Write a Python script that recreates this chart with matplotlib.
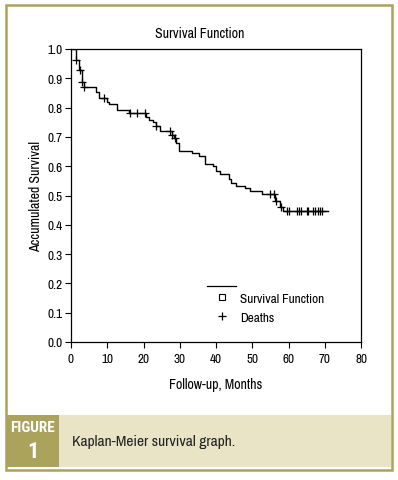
import numpy as np
import matplotlib
matplotlib.use("Agg")
import matplotlib.pyplot as plt
from matplotlib.lines import Line2D
from matplotlib.patches import Rectangle

plt.rcParams['font.family'] = ['Archivo Narrow', 'Roboto Condensed', 'DejaVu Sans']

# step times (months) and survival after each step
step_times = [0, 1.5, 2.3, 3.0, 3.6, 6.9, 7.8, 9.85, 10.6, 12.8, 16.0, 20.8, 21.6, 22.7,
              23.4, 24.6, 27.8, 28.5, 29.0, 29.8, 33.5, 35.4, 37.1, 39.3, 40.0, 41.2,
              43.6, 44.0, 45.4, 48.1, 49.4, 52.8, 56.4, 57.6, 58.4]
survival = [1.0, 0.963, 0.930, 0.886, 0.869, 0.852, 0.832, 0.820, 0.812, 0.792, 0.783,
            0.768, 0.758, 0.750, 0.736, 0.720, 0.708, 0.695, 0.680, 0.651, 0.644, 0.634,
            0.607, 0.599, 0.584, 0.572, 0.558, 0.544, 0.532, 0.525, 0.514, 0.504, 0.480,
            0.461, 0.446]
end_time = 70.8

# censored observations (plotted as "+")
censor_times = [1.5, 2.4, 3.0, 3.6, 9.2, 16.3, 18.2, 20.5, 23.4, 27.3, 27.9, 28.6,
                55.0, 56.0, 56.5, 57.8, 59.6, 60.1, 62.3, 62.9, 63.4, 65.1, 65.5,
                66.7, 67.4, 68.1, 68.8, 69.3]

x_ticks = [0, 10, 20, 30, 40, 50, 60, 70, 80]
y_ticks = [0.0, 0.1, 0.2, 0.3, 0.4, 0.5, 0.6, 0.7, 0.8, 0.9, 1.0]

W, H = 398, 481
fig = plt.figure(figsize=(W / 100, H / 100), dpi=100)

def fx(px):
    return px / W

def fy(py):
    return 1 - py / H

gold = '#ada25a'
beige = '#e9e4c6'

# frame and caption band
fig.patches.append(Rectangle((fx(6), fy(471)), fx(386), 465 / H, transform=fig.transFigure,
                             fill=False, edgecolor=gold, lw=1.8, zorder=0))
fig.patches.append(Rectangle((fx(6), fy(468)), fx(385), 52 / H, transform=fig.transFigure,
                             facecolor=beige, edgecolor='none', zorder=0))
fig.patches.append(Rectangle((fx(6), fy(468)), fx(53), 52 / H, transform=fig.transFigure,
                             facecolor='#aba35b', edgecolor='none', zorder=1))
fig.text(fx(32.5), fy(428), 'FIGURE', color='white', fontsize=11, fontweight='bold',
         ha='center', va='center', family=['Roboto Condensed', 'DejaVu Sans'])
fig.text(fx(32.5), fy(452), '1', color='white', fontsize=16, fontweight='bold',
         ha='center', va='center', family=['Roboto Condensed', 'DejaVu Sans'])
fig.text(fx(72), fy(442), 'Kaplan-Meier survival graph.', color='#222222', fontsize=11.2,
         ha='left', va='center')

ax = fig.add_axes([fx(71), fy(343), 290 / W, 293 / H])

t = np.append(step_times, end_time)
s = np.append(survival, survival[-1])
ax.step(t, s, where='post', color='black', lw=1.0)

idx = np.searchsorted(step_times, censor_times, side='right') - 1
censor_surv = np.array(survival)[idx]
ax.plot(censor_times, censor_surv, '+', color='black', ms=6, mew=0.9)

ax.set_xlim(0, 80)
ax.set_ylim(0, 1.0)
ax.set_xticks(x_ticks)
ax.set_yticks(y_ticks)
ax.set_yticklabels([f'{v:.1f}' for v in y_ticks])
ax.tick_params(direction='out', length=4, width=0.8, labelsize=9.5, pad=2)
ax.tick_params(axis='x', pad=4)
for sp in ax.spines.values():
    sp.set_linewidth(0.9)

ax.set_xlabel('Follow-up, Months', fontsize=10, labelpad=9)
ax.set_ylabel('Accumulated Survival', fontsize=10, labelpad=3)
fig.text(fx(200), fy(34), 'Survival Function', fontsize=10, ha='center', va='center')

# legend
ax.plot([0.469, 0.569], [0.19, 0.19], color='black', lw=0.9, transform=ax.transAxes,
        clip_on=False)
handles = [Line2D([], [], marker='s', ls='none', mfc='none', mec='black', ms=5, mew=0.8),
           Line2D([], [], marker='+', ls='none', color='black', ms=6, mew=0.9)]
ax.legend(handles, ['Survival Function', 'Deaths'], loc='upper left',
          bbox_to_anchor=(0.445, 0.2), frameon=False, fontsize=9.5, handlelength=2.0,
          handletextpad=0.3, labelspacing=0.6, borderpad=0.2)

fig.savefig('out.png', dpi=100)
